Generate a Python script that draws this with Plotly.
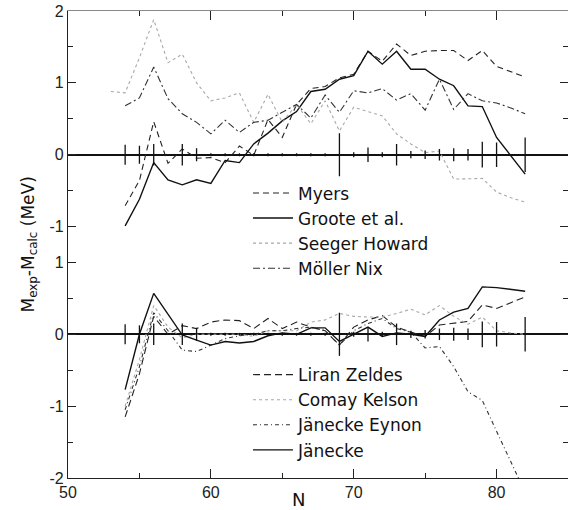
import plotly.graph_objects as go
from plotly.subplots import make_subplots

# ---------------- data ----------------
N = list(range(54, 83))
N_seeger = list(range(53, 83))

# upper panel
myers = [-0.71, -0.36, 0.46, -0.12, 0.08, -0.05, -0.04, -0.11, 0.12, -0.01, 0.49, 0.24, 0.70, 0.92, 0.95,
         1.07, 1.12, 1.44, 1.30, 1.54, 1.38, 1.44, 1.45, 1.45, 1.31, 1.45, 1.23, 1.16, 1.08]
groote = [-0.99, -0.62, -0.11, -0.35, -0.42, -0.35, -0.40, -0.08, -0.11, 0.15, 0.30, 0.47, 0.60, 0.88, 0.91,
          1.05, 1.10, 1.44, 1.26, 1.44, 1.19, 1.19, 1.05, 0.96, 0.68, 0.67, 0.24, -0.02, -0.27]
seeger = [0.88, 0.86, 1.35, 1.88, 1.28, 1.40, 1.00, 0.75, 0.79, 0.86, 0.45, 0.84, 0.45, 0.70, 0.43, 0.75,
          0.33, 0.66, 0.60, 0.54, 0.29, 0.15, 0.03, 0.05, -0.34, -0.34, -0.33, -0.52, -0.60, -0.66]
moller = [0.68, 0.79, 1.22, 0.78, 0.57, 0.45, 0.29, 0.48, 0.31, 0.45, 0.48, 0.59, 0.70, 0.51, 0.83,
          0.59, 0.89, 0.86, 0.92, 0.76, 0.85, 0.62, 1.05, 0.63, 0.85, 0.75, 0.72, 0.65, 0.57]

# lower panel
liran = [-1.15, -0.55, 0.25, 0.00, 0.12, 0.08, 0.17, 0.20, 0.19, 0.08, 0.22, 0.08, 0.17, 0.10, 0.05,
         -0.15, 0.10, 0.20, 0.26, 0.10, 0.03, -0.03, 0.13, 0.16, 0.18, 0.41, 0.36, 0.44, 0.52]
comay = [-1.00, -0.35, 0.40, 0.10, -0.05, 0.00, 0.00, 0.00, 0.00, -0.03, 0.05, 0.05, 0.05, 0.17, 0.20,
         0.29, 0.25, 0.24, 0.24, 0.29, 0.35, 0.27, 0.40, 0.25, 0.14, 0.24, 0.05, 0.02, 0.00]
eynon = [-1.05, -0.45, 0.30, 0.05, -0.22, -0.24, -0.15, -0.06, -0.02, 0.00, 0.05, 0.05, 0.08, 0.10, 0.05,
         -0.15, 0.05, 0.15, 0.22, 0.08, 0.03, -0.19, -0.17, -0.45, -0.80, -0.92, -1.35, -1.78, -2.20]
janecke = [-0.77, 0.00, 0.57, 0.28, -0.01, -0.08, -0.15, -0.10, -0.12, -0.10, -0.02, 0.02, 0.00, 0.09, 0.09,
           -0.10, 0.00, 0.10, -0.03, 0.02, 0.00, -0.03, 0.20, 0.31, 0.36, 0.66, 0.65, 0.62, 0.60]

# vertical marks on the zero lines (half-height, MeV)
mark_n = [54, 55, 56, 58, 59, 60, 61, 62, 63, 64, 65, 66, 67, 68, 69, 70, 71, 72, 73, 74, 75, 76, 77, 78, 79, 80, 82]
mark_err = [0.14, 0.125, 0.15, 0.15, 0.09, 0.02, 0.02, 0.02, 0.02, 0.02, 0.02, 0.02, 0.02, 0.02,
            0.30, 0.035, 0.10, 0.035, 0.15, 0.05, 0.06, 0.08, 0.09, 0.08, 0.18, 0.17, 0.24]
mark_zero = [0] * len(mark_n)

y_top_ticks = [-1, 0, 1, 2]
y_top_text = ["-1", "0", "1", "2"]
y_bot_ticks = [-2, -1, 0, 1]
y_bot_text = ["-2", "-1", "0", "1"]

# ---------------- figure ----------------
FONT = "DejaVu Sans, Liberation Sans, sans-serif"
fig = make_subplots(rows=2, cols=1, vertical_spacing=0)

def add_line(x, y, name, dash, color, width, row, legend):
    fig.add_trace(go.Scatter(x=x, y=y, name=name, mode="lines",
                             line=dict(color=color, width=width, dash=dash),
                             legend=legend), row=row, col=1)

add_line(N, myers, "Myers", "6px,4px", "#222", 1.1, 1, "legend")
add_line(N, groote, "Groote et al.", "solid", "#111", 1.4, 1, "legend")
add_line(N_seeger, seeger, "Seeger Howard", "dot", "#a8a8a8", 1.1, 1, "legend")
add_line(N, moller, "Möller Nix", "7px,3px,2px,3px", "#333", 1.1, 1, "legend")

add_line(N, liran, "Liran Zeldes", "7px,4px", "#222", 1.1, 2, "legend2")
add_line(N, comay, "Comay Kelson", "dot", "#a8a8a8", 1.1, 2, "legend2")
add_line(N, eynon, "Jänecke Eynon", "4px,3px,1px,3px", "#333", 1.1, 2, "legend2")
add_line(N, janecke, "Jänecke", "solid", "#111", 1.4, 2, "legend2")

for r in (1, 2):
    fig.add_trace(go.Scatter(x=mark_n, y=mark_zero, mode="markers", showlegend=False,
                             marker=dict(size=1, color="#111"),
                             error_y=dict(type="data", array=mark_err, symmetric=True,
                                          width=0, thickness=1.3, color="#111")),
                  row=r, col=1)

TICKFONT = dict(family="Liberation Sans, Arial, sans-serif", size=16, color="#222")
axis_common = dict(showgrid=False, ticks="inside", tickcolor="#222", tickfont=TICKFONT)

fig.update_layout(
    width=568, height=510,
    margin=dict(l=68, r=0, t=11, b=32),
    plot_bgcolor="white", paper_bgcolor="white",
    font=dict(family=FONT, color="#222"),
    xaxis=dict(range=[50, 85], side="top", showticklabels=False, tick0=50, dtick=10, ticklen=9,
               minor=dict(dtick=5, ticks="inside", ticklen=5, tickcolor="#222"),
               showline=True, linecolor="#888", linewidth=1, **axis_common),
    xaxis2=dict(range=[50, 85], tick0=50, dtick=10, ticklen=9,
                minor=dict(dtick=5, ticks="inside", ticklen=5, tickcolor="#222"),
                showline=True, linecolor="#222", linewidth=1.2, **axis_common),
    yaxis=dict(domain=[0.5, 1], range=[-1.25, 2], tickmode="array", tickvals=y_top_ticks,
               ticktext=y_top_text, ticklen=8, mirror="ticks",
               minor=dict(tick0=0, dtick=0.5, ticks="inside", ticklen=5, tickcolor="#222"),
               showline=True, linecolor="#222", linewidth=1.2,
               zeroline=True, zerolinecolor="#111", zerolinewidth=1.5, **axis_common),
    yaxis2=dict(domain=[0, 0.5], range=[-2, 1.25], tickmode="array", tickvals=y_bot_ticks,
                ticktext=y_bot_text, ticklen=8, mirror="ticks",
                minor=dict(tick0=0, dtick=0.5, ticks="inside", ticklen=5, tickcolor="#222"),
                showline=True, linecolor="#222", linewidth=1.2,
                zeroline=True, zerolinecolor="#111", zerolinewidth=1.5, **axis_common),
    legend=dict(x=0.36, y=0.648, xanchor="left", yanchor="top", bgcolor="rgba(0,0,0,0)",
                font=dict(family=FONT, size=17, color="#111"), itemwidth=40, tracegroupgap=0),
    legend2=dict(x=0.36, y=0.259, xanchor="left", yanchor="top", bgcolor="rgba(0,0,0,0)",
                 font=dict(family=FONT, size=17, color="#111"), itemwidth=40, tracegroupgap=0),
    annotations=[
        dict(text="M<sub>exp</sub>-M<sub>calc</sub> (MeV)", xref="paper", yref="paper",
             x=-0.078, y=0.5, textangle=-90, showarrow=False, xanchor="center", yanchor="middle",
             font=dict(family=FONT, size=17, color="#111")),
        dict(text="N", xref="paper", yref="paper", x=0.46, y=-0.045, showarrow=False,
             xanchor="center", yanchor="middle", font=dict(family=FONT, size=18, color="#111")),
    ],
)

fig.write_html("out.html")
